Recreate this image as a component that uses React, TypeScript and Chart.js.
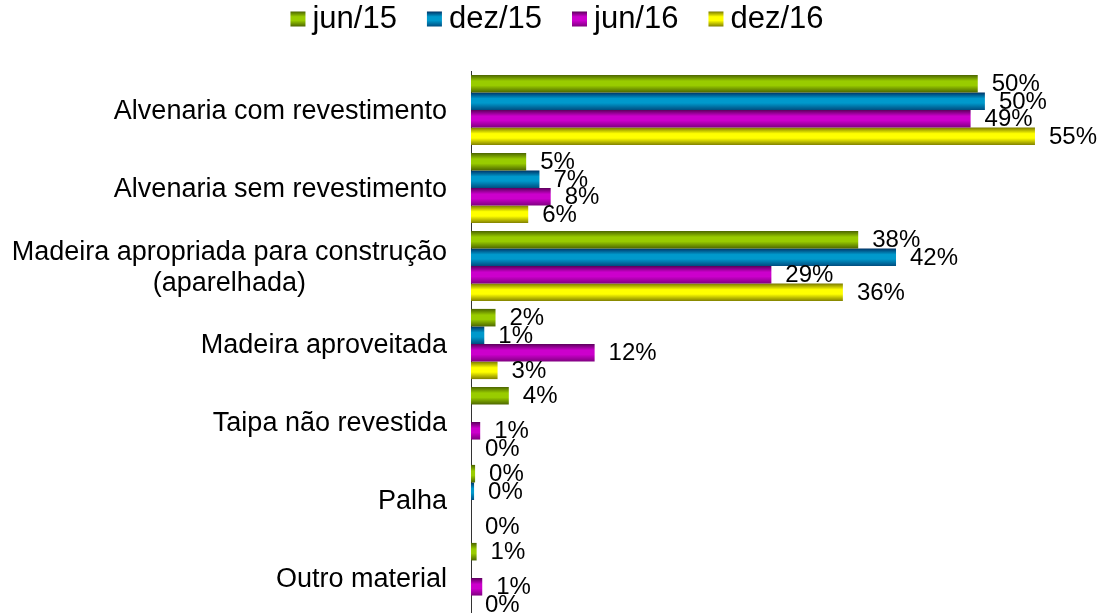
import React, { useEffect, useRef } from 'react';
import { Chart, registerables } from 'chart.js';

Chart.register(...registerables);

// ---- data ----
const categories: (string | string[])[] = [
  'Alvenaria com revestimento',
  'Alvenaria sem revestimento',
  ['Madeira apropriada para construção', '(aparelhada)'],
  'Madeira aproveitada',
  'Taipa não revestida',
  'Palha',
  'Outro material',
];
const seriesLabels = ['jun/15', 'dez/15', 'jun/16', 'dez/16'];
const jun15: (number | null)[] = [49.6, 5.4, 37.9, 2.4, 3.7, 0.4, 0.55];
const dez15: (number | null)[] = [50.3, 6.7, 41.6, 1.3, null, 0.3, null];
const jun16: (number | null)[] = [48.9, 7.8, 29.4, 12.1, 0.9, null, 1.1];
const dez16: (number | null)[] = [55.2, 5.6, 36.4, 2.6, 0, 0, 0];
const xMin = 0;
const xMax = 60;

// ---- styles ----
const palettes: string[][] = [
  ['#4a6300', '#99cc00', '#99cc00', '#4d6600'],
  ['#003366', '#0099cc', '#0099cc', '#004d80'],
  ['#5c005c', '#cc00cc', '#cc00cc', '#800080'],
  ['#7a7a00', '#ffff00', '#ffff00', '#808000'],
];
const FONT = '"Liberation Sans", Arial, Helvetica, sans-serif';

function makeGradient(ctx: CanvasRenderingContext2D, top: number, h: number, pal: string[]) {
  const g = ctx.createLinearGradient(0, top, 0, top + h);
  g.addColorStop(0, pal[0]);
  g.addColorStop(0.35, pal[1]);
  g.addColorStop(0.6, pal[2]);
  g.addColorStop(1, pal[3]);
  return g;
}

const dataLabelPlugin = {
  id: 'dataLabelPlugin',
  afterDatasetsDraw(chart: any) {
    const ctx = chart.ctx as CanvasRenderingContext2D;
    ctx.save();
    ctx.font = `24px ${FONT}`;
    ctx.fillStyle = '#000';
    ctx.textAlign = 'left';
    ctx.textBaseline = 'middle';
    chart.data.datasets.forEach((ds: any, di: number) => {
      const meta = chart.getDatasetMeta(di);
      meta.data.forEach((el: any, i: number) => {
        const v = ds.data[i];
        if (v === null || v === undefined) return;
        ctx.fillText(`${Math.round(v)}%`, el.x + 14, el.y + 1);
      });
    });
    ctx.restore();
  },
};

const categoryLabelPlugin = {
  id: 'categoryLabelPlugin',
  afterDraw(chart: any) {
    const ctx = chart.ctx as CanvasRenderingContext2D;
    const yScale = chart.scales.y;
    const right = chart.chartArea.left - 24;
    ctx.save();
    ctx.font = `27px ${FONT}`;
    ctx.fillStyle = '#000';
    ctx.textAlign = 'center';
    ctx.textBaseline = 'middle';
    const lh = 31;
    (chart.data.labels as (string | string[])[]).forEach((lab, i) => {
      const y = yScale.getPixelForValue(i) + 2;
      const lines = Array.isArray(lab) ? lab : [lab];
      const widest = Math.max(...lines.map((l) => ctx.measureText(l).width));
      const cx = right - widest / 2;
      lines.forEach((l, k) => {
        ctx.fillText(l, cx, y + (k - (lines.length - 1) / 2) * lh);
      });
    });
    ctx.restore();
  },
};

const legendPlugin = {
  id: 'legendPlugin',
  afterDraw(chart: any) {
    const ctx = chart.ctx as CanvasRenderingContext2D;
    ctx.save();
    ctx.font = `31px ${FONT}`;
    ctx.textBaseline = 'middle';
    ctx.textAlign = 'left';
    const box = 15;
    const gap = 7;
    const spacing = 30;
    const ds = chart.data.datasets;
    const widths = ds.map((d: any) => box + gap + ctx.measureText(d.label).width);
    const total = widths.reduce((a: number, b: number) => a + b, 0) + spacing * (ds.length - 1);
    let x = chart.width / 2 + 6 - total / 2;
    const cy = 19;
    ds.forEach((d: any, i: number) => {
      const top = cy - box / 2;
      ctx.fillStyle = makeGradient(ctx, top, box, palettes[i]);
      ctx.fillRect(x, top, box, box);
      ctx.fillStyle = '#000';
      ctx.fillText(d.label, x + box + gap, cy);
      x += widths[i] + spacing;
    });
    ctx.restore();
  },
};

export default function App() {
  const canvasRef = useRef<HTMLCanvasElement | null>(null);

  useEffect(() => {
    const canvas = canvasRef.current;
    if (!canvas) return;
    const seriesData = [jun15, dez15, jun16, dez16];
    const chart = new Chart(canvas, {
      type: 'bar',
      data: {
        labels: categories as any,
        datasets: seriesLabels.map((label, di) => ({
          label,
          data: seriesData[di] as any,
          borderWidth: 0,
          barPercentage: 1,
          categoryPercentage: 0.9,
          backgroundColor: (c: any) => {
            const pal = palettes[di];
            const el = c.chart.getDatasetMeta(di).data[c.dataIndex] as any;
            if (!el || !Number.isFinite(el.y) || !Number.isFinite(el.height)) return pal[1];
            return makeGradient(c.chart.ctx, el.y - el.height / 2, el.height, pal);
          },
        })),
      },
      options: {
        indexAxis: 'y',
        responsive: false,
        animation: false,
        layout: { padding: { top: 71, right: 18, bottom: 0, left: 0 } },
        plugins: {
          legend: { display: false },
          tooltip: { enabled: false },
        },
        scales: {
          x: { display: false, min: xMin, max: xMax },
          y: {
            ticks: { display: false },
            grid: { display: false, drawTicks: false },
            border: { display: true, color: '#333333', width: 1 },
            afterFit: (s: any) => {
              s.width = 471;
            },
          },
        },
      } as any,
      plugins: [dataLabelPlugin, categoryLabelPlugin, legendPlugin],
    });
    chart.update();
    return () => chart.destroy();
  }, []);

  return (
    <div
      style={{
        position: 'fixed',
        left: 0,
        top: 0,
        width: 1102,
        height: 613,
        overflow: 'hidden',
        background: '#fff',
      }}
    >
      <canvas ref={canvasRef} width={1102} height={617} style={{ display: 'block' }} />
    </div>
  );
}
